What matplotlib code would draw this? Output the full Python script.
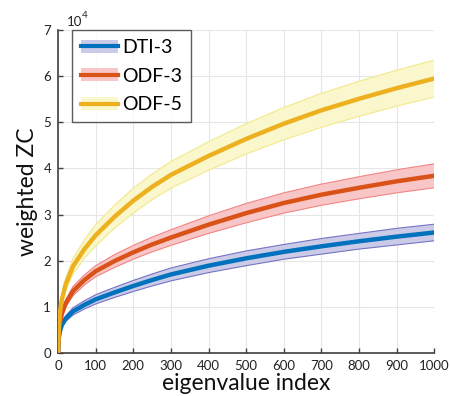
import matplotlib.pyplot as plt
from matplotlib.patches import Patch
from matplotlib.lines import Line2D

plt.rcParams['font.family'] = ['Lato', 'DejaVu Sans']

# eigenvalue index
x = [0, 2, 5, 10, 20, 40, 70, 100, 150, 200, 250, 300, 400, 500, 600, 700, 800, 900, 1000]

# mean weighted ZC (x 10^4)
dti3 = [0, 0.32, 0.47, 0.60, 0.74, 0.90, 1.04, 1.16, 1.31, 1.45, 1.58, 1.70, 1.89, 2.05, 2.19, 2.31, 2.42, 2.52, 2.61]
odf3 = [0, 0.45, 0.65, 0.84, 1.07, 1.34, 1.58, 1.77, 1.99, 2.18, 2.35, 2.50, 2.78, 3.03, 3.25, 3.43, 3.58, 3.72, 3.84]
odf5 = [0, 0.55, 0.88, 1.15, 1.48, 1.88, 2.25, 2.55, 2.95, 3.30, 3.60, 3.86, 4.27, 4.64, 4.97, 5.26, 5.51, 5.74, 5.95]

# spread of the shaded band (x 10^4)
dti3_sd = [0, 0.02, 0.04, 0.05, 0.06, 0.08, 0.09, 0.10, 0.11, 0.12, 0.13, 0.14, 0.15, 0.16, 0.16, 0.17, 0.17, 0.18, 0.18]
odf3_sd = [0, 0.03, 0.05, 0.06, 0.08, 0.10, 0.11, 0.12, 0.14, 0.15, 0.16, 0.17, 0.19, 0.21, 0.22, 0.23, 0.24, 0.25, 0.26]
odf5_sd = [0, 0.04, 0.07, 0.10, 0.13, 0.17, 0.20, 0.23, 0.25, 0.27, 0.28, 0.29, 0.31, 0.33, 0.35, 0.37, 0.38, 0.39, 0.40]

names = ['DTI-3', 'ODF-3', 'ODF-5']
line_colors = ['#0072BD', '#D95319', '#EDB120']
fill_colors = ['#cbcbe7', '#f8c6c6', '#f9f7cb']
edge_colors = ['#7474c4', '#f28585', '#f3e98c']

fig = plt.figure(figsize=(4.5, 3.96), dpi=100)
ax = fig.add_axes([0.129, 0.109, 0.836, 0.815])

handles = []
for mean, sd, name, lc, fc, ec in zip([dti3, odf3, odf5], [dti3_sd, odf3_sd, odf5_sd],
                                      names, line_colors, fill_colors, edge_colors):
    lo = [m - s for m, s in zip(mean, sd)]
    hi = [m + s for m, s in zip(mean, sd)]
    ax.fill_between(x, lo, hi, facecolor=fc, edgecolor='none', zorder=2)
    ax.plot(x, lo, color=ec, lw=0.8, zorder=3)
    ax.plot(x, hi, color=ec, lw=0.8, zorder=3)
    ax.plot(x, mean, color=lc, lw=3.2, zorder=4, solid_capstyle='butt',
            solid_joinstyle='round')
    handles.append((Patch(facecolor=fc, edgecolor='none'),
                    Line2D([], [], color=lc, lw=3)))

ax.set_xlim(0, 1000)
ax.set_ylim(0, 7)
ax.set_xticks(range(0, 1001, 100))
ax.set_yticks(range(0, 8))

ax.grid(True, color='#e6e6e6', linewidth=0.8, zorder=0)
ax.set_axisbelow(True)
for s in ['top', 'right']:
    ax.spines[s].set_visible(False)
for s in ['left', 'bottom']:
    ax.spines[s].set_color('#404040')
    ax.spines[s].set_linewidth(1.2)
ax.tick_params(direction='in', length=3.5, width=1, colors='#404040',
               labelcolor='#222222', labelsize=9.5, pad=5)

ax.set_xlabel('eigenvalue index', fontsize=16.5, labelpad=1, color='#111111')
ax.set_ylabel('weighted ZC', fontsize=16.5, labelpad=4, color='#111111')

# exponent label
ax.text(0.024, 1.005, '10', transform=ax.transAxes, fontsize=9.5,
        ha='left', va='bottom', color='#222222')
ax.text(0.063, 1.03, '4', transform=ax.transAxes, fontsize=7,
        ha='left', va='bottom', color='#222222')

leg = ax.legend(handles, names, loc='upper left', bbox_to_anchor=(0.037, 1.0),
                fontsize=14, frameon=True, fancybox=False, borderpad=0.45,
                handlelength=1.9, handleheight=0.65, handletextpad=0.25,
                labelspacing=0.6, borderaxespad=0)
leg.get_frame().set_edgecolor('#333333')
leg.get_frame().set_linewidth(1.0)
leg.set_zorder(10)

fig.savefig('out.png', dpi=100)
